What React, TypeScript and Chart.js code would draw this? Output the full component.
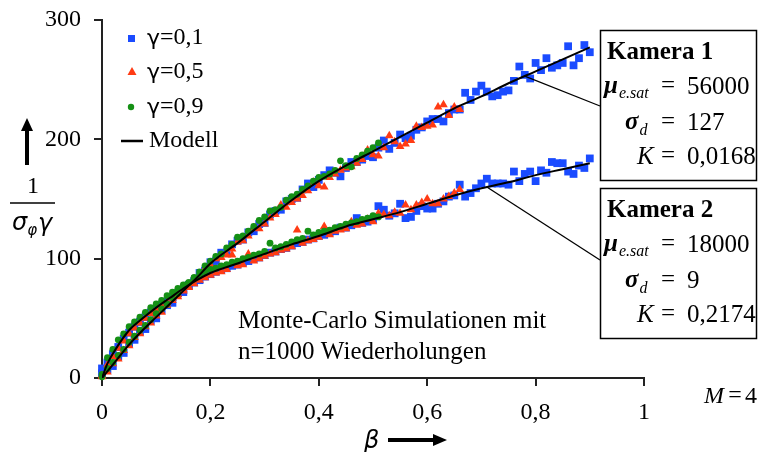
import React, { useEffect, useRef } from "react";
import { Chart, registerables } from "chart.js";
Chart.register(...registerables);

// ---- data ----
const BETA = [
  0, 0.01, 0.02, 0.03, 0.04, 0.05, 0.06, 0.07, 0.08, 0.09,
  0.1, 0.11, 0.12, 0.13, 0.14, 0.15, 0.16, 0.17, 0.18, 0.19,
  0.2, 0.21, 0.22, 0.23, 0.24, 0.25, 0.26, 0.27, 0.28, 0.29,
  0.3, 0.31, 0.32, 0.33, 0.34, 0.35, 0.36, 0.37, 0.38, 0.39,
  0.4, 0.41, 0.42, 0.43, 0.44, 0.45, 0.46, 0.47, 0.48, 0.49,
  0.5, 0.51, 0.52, 0.53, 0.54, 0.55, 0.56, 0.57, 0.58, 0.59,
  0.6, 0.61, 0.62, 0.63, 0.64, 0.65, 0.66, 0.67, 0.68, 0.69,
  0.7, 0.71, 0.72, 0.73, 0.74, 0.75, 0.76, 0.77, 0.78, 0.79,
  0.8, 0.81, 0.82, 0.83, 0.84, 0.85, 0.86, 0.87, 0.88, 0.89,
  0.9,
];

// Kamera 1
const K1_G01 = [
  4, 7, 10, 18, 21, 29, 32, 39, 41, 48,
  50, 57, 61, 63, 71, 72, 78, 81, 88, 90,
  97, 98, 105, 105, 112, 115, 116, 122, 123, 129,
  130, 137, 140, 141, 148, 150, 151, 158, 163, 160,
  166, 170, 174, 172, 169, 176, 181, 181, 183, 186,
  185, 193, 199, 192, 197, 204, 201, 203, 208, 210,
  215, 217, 217, 215, 222, 225, 225, 239, 233, 240,
  245, 240, 236, 237, 240, 241, 249, 261, 254, 251,
  264, 258, 268, 260, 262, 264, 278, 262, 268, 279,
  273,
];
const K1_G05 = [
  2, 5, 12, 16, 23, 27, 34, 37, 43, 46,
  52, 55, 61, 65, 68, 74, 76, 83, 85, 92,
  95, 100, 101, 103, 108, 114, 115, 119, 126, 125,
  129, 134, 137, 145, 143, 147, 150, 153, 157, 164,
  161, 160, 168, 171, 174, 176, 177, 180, 183, 191,
  187, 186, 193, 203, 198, 194, 196, 199, 211, 210,
  211, 212, 227, 229, 220, 227, 225,
];
const K1_G09 = [
  1, 8, 13, 19, 24, 30, 35, 40, 44, 49,
  54, 58, 62, 67, 71, 76, 80, 84, 89, 94,
  98, 102, 104, 109, 112, 118, 119, 123, 127, 132,
  135, 140, 141, 143, 149, 152, 154, 158, 161, 165,
  168, 169, 171, 174, 182, 178, 177, 184, 187, 190,
  193, 197,
];
// Kamera 2
const K2_G01 = [
  8, 13, 20, 26, 33, 38, 43, 47, 51, 55,
  58, 61, 64, 68, 71, 74, 77, 80, 82, 85,
  87, 89, 91, 92, 94, 95, 97, 98, 100, 101,
  103, 105, 106, 108, 109, 111, 113, 114, 116, 117,
  119, 120, 122, 123, 126, 126, 128, 134, 130, 131,
  133, 144, 141, 136, 138, 146, 134, 135, 140, 144,
  142, 142, 146, 148, 152, 153, 162, 152, 155, 159,
  163, 167, 163, 163, 163, 162, 173, 165, 171, 173,
  165, 174, 172, 181, 180, 180, 173, 171, 178, 176,
  184,
];
const K2_G05 = [
  1, 11, 18, 25, 31, 37, 42, 46, 50, 54,
  57, 60, 63, 67, 70, 73, 76, 79, 82, 84,
  86, 88, 89, 91, 103, 94, 95, 104, 98, 100,
  102, 104, 105, 107, 108, 110, 124, 113, 115, 116,
  118, 127, 120, 123, 124, 125, 131, 128, 129, 133,
  131, 138, 137, 136, 139, 138, 145, 141, 145, 147,
  150, 146, 146, 150, 152, 155, 158,
];
const K2_G09 = [
  3, 17, 24, 32, 37, 43, 47, 51, 55, 59,
  62, 65, 69, 72, 75, 78, 80, 84, 86, 89,
  91, 92, 94, 95, 97, 98, 100, 101, 103, 104,
  106, 113, 109, 110, 112, 114, 116, 117, 123, 120,
  122, 123, 124, 126, 127, 129, 130, 131, 133, 134,
  136, 135,
];

// Model curves
const MODEL1_BETA = [0, 0.025, 0.05, 0.075, 0.1, 0.125, 0.15, 0.175, 0.2, 0.25, 0.3, 0.35, 0.4, 0.45, 0.5, 0.55, 0.6, 0.65, 0.7, 0.75, 0.8, 0.85, 0.9];
const MODEL1_VAL = [0, 14, 28, 40, 51, 62, 73, 84, 96, 113, 131, 149, 165, 178, 190, 202, 214, 226, 236, 247, 257, 267, 277];
const MODEL2_BETA = [0, 0.01, 0.025, 0.05, 0.075, 0.1, 0.125, 0.15, 0.175, 0.2, 0.25, 0.3, 0.35, 0.4, 0.45, 0.5, 0.55, 0.6, 0.65, 0.7, 0.75, 0.8, 0.85, 0.9];
const MODEL2_VAL = [0, 12, 24, 40, 50, 59, 67, 75, 82, 88, 96, 104, 112, 119, 127, 133, 139, 146, 153, 159, 164, 170, 175, 180];

const X_TICK_LABELS = ["0", "0,2", "0,4", "0,6", "0,8", "1"];
const Y_TICK_LABELS = ["0", "100", "200", "300"];
const LEGEND_LABELS = ["γ=0,1", "γ=0,5", "γ=0,9", "Modell"];

const CAMERAS = [
  { title: "Kamera 1", mu: "56000", sd: "127", k: "0,0168", leaderBeta: 0.78, leaderVal: 253 },
  { title: "Kamera 2", mu: "18000", sd: "9", k: "0,2174", leaderBeta: 0.71, leaderVal: 160 },
];

const BLUE = "#1a4bff";
const RED = "#ff3b14";
const GREEN = "#159015";
const SERIF = "'Liberation Serif', 'Times New Roman', serif";
const GREEK = "'DejaVu Sans', sans-serif";

function pts(vals: number[]) {
  return vals.map((v, i) => ({ x: BETA[i], y: v }));
}
function line(bs: number[], vs: number[]) {
  return bs.map((b, i) => ({ x: b, y: vs[i] }));
}

function txt(ctx: CanvasRenderingContext2D, s: string, x: number, y: number, font: string, align: CanvasTextAlign = "left") {
  ctx.font = font;
  ctx.textAlign = align;
  ctx.textBaseline = "middle";
  ctx.fillStyle = "#000";
  ctx.fillText(s, x, y);
  return ctx.measureText(s).width;
}

const overlay = {
  id: "overlay",
  afterDraw(chart: any) {
    const ctx: CanvasRenderingContext2D = chart.ctx;
    const xs = chart.scales.x;
    const ys = chart.scales.y;
    ctx.save();

    // legend
    ctx.fillStyle = BLUE;
    ctx.fillRect(128, 35, 7, 7);
    ctx.fillStyle = RED;
    ctx.beginPath();
    ctx.moveTo(132, 67);
    ctx.lineTo(136.5, 75);
    ctx.lineTo(127.5, 75);
    ctx.closePath();
    ctx.fill();
    ctx.fillStyle = GREEN;
    ctx.beginPath();
    ctx.arc(131, 107, 3.2, 0, Math.PI * 2);
    ctx.fill();
    ctx.strokeStyle = "#000";
    ctx.lineWidth = 2.5;
    ctx.beginPath();
    ctx.moveTo(121, 141);
    ctx.lineTo(143, 141);
    ctx.stroke();
    const ly = [38, 72, 107];
    for (let i = 0; i < 3; i++) {
      const w = txt(ctx, LEGEND_LABELS[i].slice(0, 1), 147, ly[i] + 1, `22px ${GREEK}`);
      txt(ctx, LEGEND_LABELS[i].slice(1), 147 + w, ly[i], `24px ${SERIF}`);
    }
    txt(ctx, LEGEND_LABELS[3], 149, 141, `24px ${SERIF}`);

    // y title
    ctx.fillStyle = "#000";
    ctx.strokeStyle = "#000";
    ctx.lineWidth = 4;
    ctx.beginPath();
    ctx.moveTo(27, 165);
    ctx.lineTo(27, 128);
    ctx.stroke();
    ctx.beginPath();
    ctx.moveTo(27, 118);
    ctx.lineTo(21, 131);
    ctx.lineTo(33, 131);
    ctx.closePath();
    ctx.fill();
    txt(ctx, "1", 33, 187, `24px ${SERIF}`, "center");
    ctx.lineWidth = 1.5;
    ctx.beginPath();
    ctx.moveTo(10, 203);
    ctx.lineTo(55, 203);
    ctx.stroke();
    let w = txt(ctx, "σ", 12, 224, `italic 24px ${GREEK}`);
    let w2 = txt(ctx, "φ", 12 + w, 231, `italic 15px ${GREEK}`);
    txt(ctx, "γ", 12 + w + w2 + 1, 225, `italic 24px ${GREEK}`);

    // x title
    txt(ctx, "β", 364, 442, `italic 24px ${GREEK}`);
    ctx.lineWidth = 4;
    ctx.beginPath();
    ctx.moveTo(388, 440);
    ctx.lineTo(434, 440);
    ctx.stroke();
    ctx.beginPath();
    ctx.moveTo(447, 440);
    ctx.lineTo(433, 434);
    ctx.lineTo(433, 446);
    ctx.closePath();
    ctx.fill();

    // boxes
    const tops = [30, 188];
    CAMERAS.forEach((c, i) => {
      const t = tops[i];
      ctx.strokeStyle = "#000";
      ctx.lineWidth = 1.3;
      ctx.beginPath();
      ctx.moveTo(xs.getPixelForValue(c.leaderBeta), ys.getPixelForValue(c.leaderVal));
      ctx.lineTo(600, t + (i === 0 ? 76 : 72));
      ctx.stroke();
      ctx.lineWidth = 1.5;
      ctx.strokeRect(600.5, t + 0.5, 156, 150);
      txt(ctx, c.title, 607, t + 23, `bold 25px ${SERIF}`);
      let mw = txt(ctx, "μ", 604, t + 57, `bold italic 25px ${SERIF}`);
      txt(ctx, "e.sat", 604 + mw + 1, t + 64, `italic 16px ${SERIF}`);
      txt(ctx, "=", 668, t + 56, `25px ${SERIF}`, "center");
      txt(ctx, c.mu, 687, t + 57, `25px ${SERIF}`);
      let sw = txt(ctx, "σ", 625, t + 93, `bold italic 25px ${SERIF}`);
      txt(ctx, "d", 625 + sw + 1, t + 101, `italic 16px ${SERIF}`);
      txt(ctx, "=", 668, t + 92, `25px ${SERIF}`, "center");
      txt(ctx, c.sd, 687, t + 93, `25px ${SERIF}`);
      txt(ctx, "K", 637, t + 127, `italic 25px ${SERIF}`);
      txt(ctx, "=", 668, t + 126, `25px ${SERIF}`, "center");
      txt(ctx, c.k, 687, t + 127, `25px ${SERIF}`);
    });

    // texts
    txt(ctx, "Monte-Carlo Simulationen mit", 238, 321, `25px ${SERIF}`);
    txt(ctx, "n=1000 Wiederholungen", 238, 352, `25px ${SERIF}`);
    txt(ctx, "M", 704, 397, `italic 24px ${SERIF}`);
    txt(ctx, "=", 735, 396, `24px ${SERIF}`, "center");
    txt(ctx, "4", 745, 397, `24px ${SERIF}`);
    ctx.restore();
  },
};

export default function App() {
  const ref = useRef<HTMLCanvasElement>(null);
  useEffect(() => {
    document.body.style.margin = "0";
    const canvas = ref.current!;
    const scatter = (label: string, vals: number[], color: string, style: string, r: number) => ({
      label,
      data: pts(vals),
      pointStyle: style,
      pointRadius: r,
      pointBackgroundColor: color,
      pointBorderColor: color,
      pointBorderWidth: 0,
      showLine: false,
      clip: false as any,
    });
    const modelDs = (label: string, data: any[]) => ({
      type: "line" as const,
      label,
      data,
      borderColor: "#000",
      borderWidth: 2,
      pointRadius: 0,
      fill: false,
      cubicInterpolationMode: "monotone" as const,
      showLine: true,
    });
    const chart = new Chart(canvas, {
      type: "scatter",
      data: {
        datasets: [
          modelDs("Modell K1", line(MODEL1_BETA, MODEL1_VAL)),
          modelDs("Modell K2", line(MODEL2_BETA, MODEL2_VAL)),
          scatter("γ=0,9 K1", K1_G09, GREEN, "circle", 3.4),
          scatter("γ=0,9 K2", K2_G09, GREEN, "circle", 3.4),
          scatter("γ=0,5 K1", K1_G05, RED, "triangle", 5),
          scatter("γ=0,5 K2", K2_G05, RED, "triangle", 5),
          scatter("γ=0,1 K1", K1_G01, BLUE, "rect", 5.5),
          scatter("γ=0,1 K2", K2_G01, BLUE, "rect", 5.5),
        ] as any,
      },
      options: {
        animation: false,
        responsive: false,
        layout: { padding: { left: 0, right: 114, top: 20, bottom: 0 } },
        plugins: { legend: { display: false }, tooltip: { enabled: false } },
        scales: {
          x: {
            type: "linear",
            min: 0,
            max: 1,
            ticks: {
              stepSize: 0.2,
              callback: (_v: any, i: number) => X_TICK_LABELS[i],
              font: { family: SERIF, size: 24 },
              color: "#000",
              padding: 12,
              maxRotation: 0,
              autoSkip: false,
            },
            grid: { drawOnChartArea: false, drawTicks: true, tickLength: 8, color: "#222", lineWidth: 2 },
            border: { display: true, color: "#222", width: 2 },
            afterFit: (s: any) => {
              s.height = 74;
              s.paddingLeft = 0;
              s.paddingRight = 0;
            },
          },
          y: {
            min: 0,
            max: 300,
            ticks: {
              stepSize: 100,
              callback: (_v: any, i: number) => Y_TICK_LABELS[i],
              font: { family: SERIF, size: 24 },
              color: "#000",
              padding: 13,
            },
            grid: { drawOnChartArea: false, drawTicks: true, tickLength: 8, color: "#222", lineWidth: 2 },
            border: { display: true, color: "#222", width: 2 },
            afterFit: (s: any) => {
              s.width = 102;
              s.paddingTop = 0;
              s.paddingBottom = 0;
            },
          },
        },
      } as any,
      plugins: [overlay],
    });
    return () => chart.destroy();
  }, []);
  return (
    <div style={{ width: 758, height: 452, background: "#fff" }}>
      <canvas ref={ref} width={758} height={452} style={{ display: "block" }} />
    </div>
  );
}
